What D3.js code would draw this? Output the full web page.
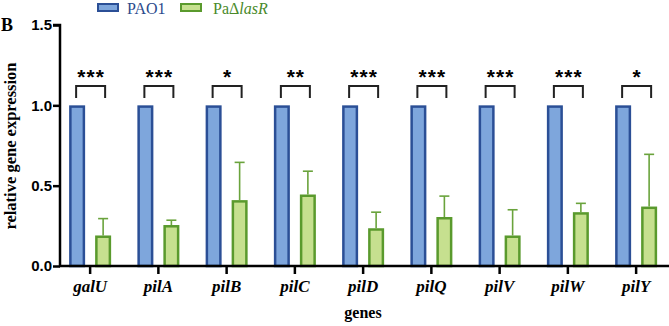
<!DOCTYPE html>
<html>
<head>
<meta charset="utf-8">
<script src="https://cdn.jsdelivr.net/npm/d3@7"></script>
<style>
  body { margin: 0; background: #fff; }
  svg { display: block; }
</style>
</head>
<body>
<div id="chartDiv"></div>
<script>
// data
const genes = ["galU", "pilA", "pilB", "pilC", "pilD", "pilQ", "pilV", "pilW", "pilY"];
const pao1Vals = [1, 1, 1, 1, 1, 1, 1, 1, 1];
const lasRVals = [0.19, 0.255, 0.41, 0.445, 0.235, 0.305, 0.19, 0.335, 0.37];
const lasRErr = [0.105, 0.03, 0.235, 0.145, 0.1, 0.13, 0.16, 0.055, 0.325];
const sigLabels = ["***", "***", "*", "**", "***", "***", "***", "***", "*"];
const yTicks = [0, 0.5, 1.0, 1.5];

const W = 669, H = 326;
const blueFill = "#7ea6dc", blueLine = "#2b4f96";
const greenFill = "#c6e08f", greenLine = "#5a9a2d", errLine = "#6aa33c";

const svg = d3.select("#chartDiv").append("svg")
	.attr("width", W)
	.attr("height", H);

const x = d3.scaleBand().domain(genes).range([56, 670.25]).padding(0);
const sub = d3.scaleBand().domain(["PAO1", "lasR"]).range([-21, 21])
	.paddingInner(0.3846).paddingOuter(0);
const y = d3.scaleLinear().domain([0, 1.5]).range([266, 25]);

const cx = g => x(g) + x.bandwidth() / 2;
const sw = 2.5;

// bars
function drawBars(vals, key, fill, line){
	svg.append("g").selectAll("rect")
		.data(genes)
		.join("rect")
		.attr("x", (g) => cx(g) + sub(key) + sw / 2)
		.attr("width", sub.bandwidth() - sw)
		.attr("y", (g, i) => y(vals[i]) + sw / 2)
		.attr("height", (g, i) => y(0) - y(vals[i]) - sw / 2)
		.attr("fill", fill)
		.attr("stroke", line)
		.attr("stroke-width", sw);
}

// error bars (upper only)
const errG = svg.append("g").attr("stroke", errLine).attr("stroke-width", 1.6);
genes.forEach((g, i) => {
	const bx = cx(g) + sub("lasR") + sub.bandwidth() / 2;
	const top = y(lasRVals[i] + lasRErr[i]);
	errG.append("line").attr("x1", bx).attr("x2", bx)
		.attr("y1", y(lasRVals[i])).attr("y2", top);
	errG.append("line").attr("x1", bx - 5).attr("x2", bx + 5)
		.attr("y1", top).attr("y2", top);
});

drawBars(pao1Vals, "PAO1", blueFill, blueLine);
drawBars(lasRVals, "lasR", greenFill, greenLine);

// significance brackets
const sigG = svg.append("g");
genes.forEach((g, i) => {
	const x1 = cx(g) - 14, x2 = cx(g) + 15;
	const yt = y(1.12), yb = y(1.045);
	sigG.append("path")
		.attr("d", `M${x1},${yb}V${yt}H${x2}V${yb}`)
		.attr("fill", "none")
		.attr("stroke", "#222")
		.attr("stroke-width", 2);
	sigG.append("text")
		.attr("x", cx(g) + 1)
		.attr("y", y(1.12) - 2)
		.attr("text-anchor", "middle")
		.attr("font-family", "Liberation Sans, Arial, sans-serif")
		.attr("font-weight", "bold")
		.attr("font-size", 21)
		.attr("letter-spacing", 1)
		.text(sigLabels[i]);
});

// y axis
const yAxis = d3.axisLeft(y).tickValues(yTicks).tickFormat(d3.format(".1f"))
	.tickSize(7).tickPadding(1);
const yG = svg.append("g").attr("transform", "translate(60,0)").call(yAxis);
yG.select(".domain").attr("stroke-width", 2.5).attr("d", `M-7,${y(1.5)}H0V${y(0)}`);
yG.selectAll(".tick line").attr("stroke-width", 2.5);
yG.selectAll(".tick text")
	.attr("font-family", "Liberation Sans, Arial, sans-serif")
	.attr("font-weight", "bold")
	.attr("font-size", 15)
	.attr("fill", "#000");

// x axis
const xAxis = d3.axisBottom(x).tickSize(8).tickPadding(6);
const xG = svg.append("g").attr("transform", `translate(0,${y(0)})`).call(xAxis);
xG.select(".domain").remove();
xG.selectAll(".tick line").attr("stroke-width", 2.5);
xG.selectAll(".tick text")
	.attr("font-family", "Liberation Serif, Times New Roman, serif")
	.attr("font-weight", "bold")
	.attr("font-style", "italic")
	.attr("font-size", 17)
	.attr("fill", "#000");
svg.append("line")
	.attr("x1", 59).attr("x2", W)
	.attr("y1", y(0)).attr("y2", y(0))
	.attr("stroke", "#000").attr("stroke-width", 2.5);

// axis titles
svg.append("text")
	.attr("transform", "translate(16,146) rotate(-90)")
	.attr("text-anchor", "middle")
	.attr("font-family", "Liberation Serif, Times New Roman, serif")
	.attr("font-weight", "bold")
	.attr("font-size", 16.5)
	.text("relative gene expression");

svg.append("text")
	.attr("x", 363).attr("y", 318)
	.attr("text-anchor", "middle")
	.attr("font-family", "Liberation Serif, Times New Roman, serif")
	.attr("font-weight", "bold")
	.attr("font-size", 16)
	.text("genes");

svg.append("text")
	.attr("x", 1).attr("y", 31)
	.attr("font-family", "Liberation Serif, Times New Roman, serif")
	.attr("font-weight", "bold")
	.attr("font-size", 18)
	.text("B");

// legend
const legend = svg.append("g").attr("font-family", "Liberation Serif, Times New Roman, serif").attr("font-size", 16);
legend.append("rect").attr("x", 98).attr("y", 4).attr("width", 20).attr("height", 7)
	.attr("fill", blueFill).attr("stroke", blueLine).attr("stroke-width", 2);
legend.append("text").attr("x", 127).attr("y", 14).attr("fill", "#2b4a8c").text("PAO1");
legend.append("rect").attr("x", 181).attr("y", 4).attr("width", 20).attr("height", 7)
	.attr("fill", greenFill).attr("stroke", greenLine).attr("stroke-width", 2);
const lt = legend.append("text").attr("x", 213).attr("y", 14).attr("fill", "#4a8a2a");
lt.append("tspan").text("PaΔ");
lt.append("tspan").attr("font-style", "italic").text("lasR");
</script>
</body>
</html>
